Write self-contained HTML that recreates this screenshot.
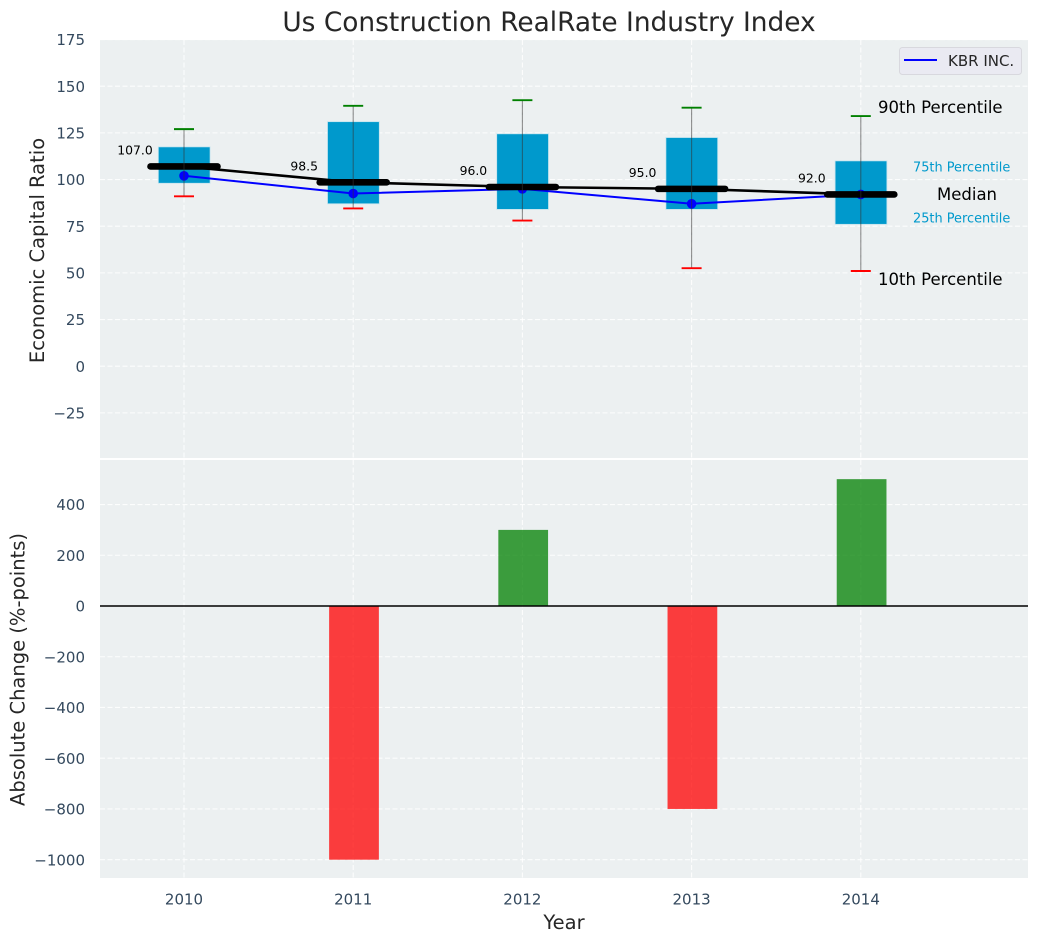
<!DOCTYPE html>
<html>
<head>
<meta charset="utf-8">
<title>Us Construction RealRate Industry Index</title>
<style>
html,body{margin:0;padding:0;background:#fff;width:1039px;height:942px;overflow:hidden}
svg{display:block;font-family:"DejaVu Sans","Liberation Sans",sans-serif}
</style>
</head>
<body>
<svg id="chart" xmlns="http://www.w3.org/2000/svg" width="1039" height="942" viewBox="0 0 1039 942">
  <rect x="100" y="40" width="928" height="418" fill="#ecf0f1"/>
  <rect x="100" y="460" width="928" height="418" fill="#ecf0f1"/>
  <g id="grid"></g>
  <g id="boxes"></g>
  <g id="bars"></g>
  <line x1="100" x2="1028" y1="606" y2="606" stroke="#000" stroke-width="1.5"/>
  <g id="lines"></g>
  <g id="ticks"></g>
  <text x="549" y="31" text-anchor="middle" font-size="26.4" fill="#262626">Us Construction RealRate Industry Index</text>
  <text transform="translate(44,250.5) rotate(-90)" text-anchor="middle" font-size="19.5" fill="#262626">Economic Capital Ratio</text>
  <text transform="translate(24.5,669.5) rotate(-90)" text-anchor="middle" font-size="19.5" fill="#262626">Absolute Change (%-points)</text>
  <text x="564" y="929" text-anchor="middle" font-size="19.5" fill="#262626">Year</text>
  <g>
    <rect x="899.5" y="47.5" width="122" height="27" rx="3" fill="#eaeaf2" stroke="#d8d8de"/>
    <line x1="904" x2="937" y1="60" y2="60" stroke="#0000ff" stroke-width="2"/>
    <text x="948" y="66" font-size="15" fill="#262626">KBR INC.</text>
  </g>
  <g>
    <text x="878" y="113" font-size="16.5" fill="#000">90th Percentile</text>
    <text x="913" y="171.5" font-size="12.9" fill="#0099cc">75th Percentile</text>
    <text x="937" y="200" font-size="16.5" fill="#000">Median</text>
    <text x="913" y="222.5" font-size="12.9" fill="#0099cc">25th Percentile</text>
    <text x="878" y="285" font-size="16.5" fill="#000">10th Percentile</text>
  </g>
</svg>
<script>
const years = [2010, 2011, 2012, 2013, 2014];
const p90 = [127, 139.5, 142.5, 138.5, 134];
const p75 = [117.5, 131, 124.5, 122.5, 110];
const medians = [107, 98.5, 96, 95, 92];
const p25 = [98, 87, 84, 84, 76];
const p10 = [91, 84.5, 78, 52.5, 51];
const kbr = [102, 92.5, 95, 87, 92];
const changes = [0, -1000, 300, -800, 500];
const medianLabels = ['107.0', '98.5', '96.0', '95.0', '92.0'];
const topTicks = [175, 150, 125, 100, 75, 50, 25, 0, -25];
const bottomTicks = [400, 200, 0, -200, -400, -600, -800, -1000];

const NS = 'http://www.w3.org/2000/svg';
const xScale = v => 184 + (v - 2010) * 169.2;
const widthScale = w => w * 169.2;
const yTop = v => 366.2 - v * 1.8667;
const yBottom = v => 606 - v * 0.2537;
const fmt = v => String(v).replace('-', '\u2212');

function make(parent, tag, attrs, text) {
  const el = document.createElementNS(NS, tag);
  for (const k in attrs) el.setAttribute(k, attrs[k]);
  if (text !== undefined) el.textContent = text;
  document.getElementById(parent).appendChild(el);
  return el;
}
const gridStyle = {stroke: '#ffffff', 'stroke-width': 1.1, 'stroke-dasharray': '5 2.5', 'stroke-opacity': 0.85};

topTicks.forEach(t => {
  const g = make('grid', 'line', Object.assign({x1: 100, x2: 1028, y1: yTop(t), y2: yTop(t)}, gridStyle));
  
  
  const l = make('ticks', 'text', {x: 85, y: yTop(t) + 5.7, 'text-anchor': 'end', 'font-size': 15, fill: '#34495e'}, fmt(t));
  
  
});
bottomTicks.forEach(t => {
  const g = make('grid', 'line', Object.assign({x1: 100, x2: 1028, y1: yBottom(t), y2: yBottom(t)}, gridStyle));
  
  
  const l = make('ticks', 'text', {x: 85, y: yBottom(t) + 5.6, 'text-anchor': 'end', 'font-size': 15, fill: '#34495e'}, fmt(t));
  
  
});
years.forEach(y => {
  const a = make('grid', 'line', Object.assign({x1: xScale(y), x2: xScale(y), y1: 40, y2: 458}, gridStyle));
  
  
  const b = make('grid', 'line', Object.assign({x1: xScale(y), x2: xScale(y), y1: 460, y2: 878}, gridStyle));
  
  
  const l = make('ticks', 'text', {x: xScale(y), y: 904.5, 'text-anchor': 'middle', 'font-size': 15, fill: '#34495e'}, y);
  
  
});

years.forEach((y, i) => {
  const cx = xScale(y), half = 25.9;
  const box = make('boxes', 'rect', {x: cx + 0.2 - half, y: yTop(p75[i]), width: half * 2, height: yTop(p25[i]) - yTop(p75[i]), fill: '#0099cc', stroke: '#c4e4ee', 'stroke-width': 0.8});
  
  

  const change = changes[i];
  if (change !== 0) {
    const barHalf = widthScale(0.147);
    const top = Math.min(yBottom(change), yBottom(0));
    const bar = make('bars', 'rect', {x: cx + 0.8 - barHalf, y: top, width: barHalf * 2, height: Math.abs(yBottom(change) - yBottom(0)), fill: change > 0 ? '#008000' : '#ff0000', 'fill-opacity': 0.75});
    
    
  }
});

const medianPath = make('lines', 'polyline', {points: years.map((y, i) => xScale(y) + ',' + yTop(medians[i])).join(' '), fill: 'none', stroke: '#000', 'stroke-width': 2.6});



const kbrPath = make('lines', 'polyline', {points: years.map((y, i) => xScale(y) + ',' + yTop(kbr[i])).join(' '), fill: 'none', stroke: '#0000ff', 'stroke-width': 2});



years.forEach((y, i) => {
  const cx = xScale(y);
  const dot = make('lines', 'circle', {cx: cx, cy: yTop(kbr[i]), r: 4.8, fill: '#0000ff'});
  
  

  const med = make('lines', 'line', {x1: cx - 33.5, x2: cx + 33.5, y1: yTop(medians[i]), y2: yTop(medians[i]), stroke: '#000', 'stroke-width': 6.6, 'stroke-linecap': 'round'});
  
  

  const whisker = make('lines', 'line', {x1: cx, x2: cx, y1: yTop(p90[i]), y2: yTop(p10[i]), stroke: '#333', 'stroke-opacity': 0.55, 'stroke-width': 1.1});
  
  

  const hi = make('lines', 'line', {x1: cx - 10, x2: cx + 10, y1: yTop(p90[i]), y2: yTop(p90[i]), stroke: '#008000', 'stroke-width': 1.9});
  
  

  const lo = make('lines', 'line', {x1: cx - 10, x2: cx + 10, y1: yTop(p10[i]), y2: yTop(p10[i]), stroke: '#ff0000', 'stroke-width': 1.9});
  
  

  const label = make('lines', 'text', {x: cx - 49, y: yTop(medians[i]) - 12, 'text-anchor': 'middle', 'font-size': 12.4, fill: '#000'}, medianLabels[i]);
  
  
});
</script>
</body>
</html>
